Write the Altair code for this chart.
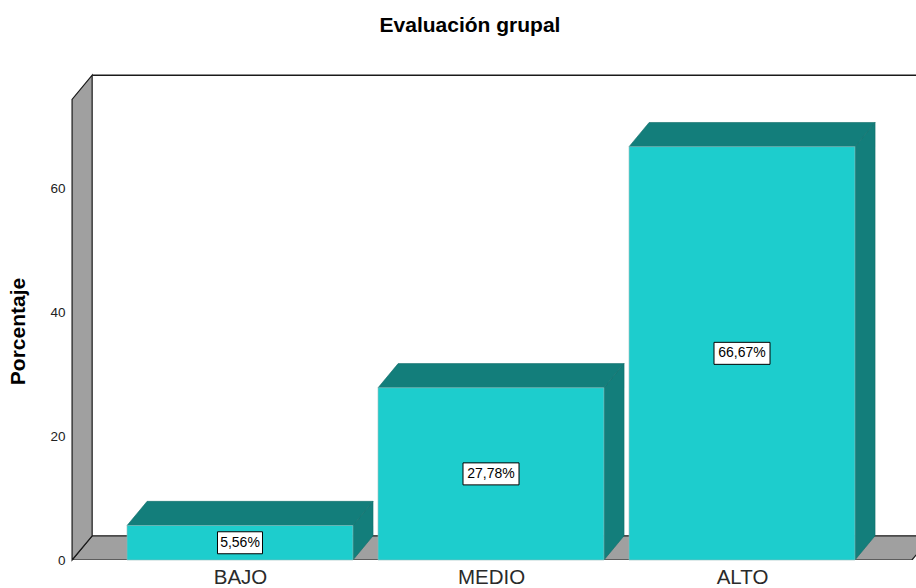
import altair as alt
import pandas as pd

# ---- data ----
categories = ["BAJO", "MEDIO", "ALTO"]
percentages = [5.56, 27.78, 66.67]
label_texts = ["5,56%", "27,78%", "66,67%"]
y_ticks = [0, 20, 40, 60]

title_text = "Evaluación grupal"
y_title = "Porcentaje"

# ---- 3D geometry (data units: x = category slot, y = percent) ----
HALF_W = 0.45        # half of bar front width
DX = 0.08            # depth shift along x
DY = 3.9             # depth shift along y
X_MIN, X_MAX = -0.6693, 2.6932
Y_MAX = 80.65
FRAME_L, FRAME_R, FRAME_T = -0.669, 2.677, 74.3
PX_X, PX_Y = 251.0, 6.2

FRONT = "#1dcdcd"
DARK = "#137e7b"
GRAY = "#a0a0a0"
EDGE = "#1a1a1a"
FONT = "Liberation Sans"

xs = alt.Scale(domain=[X_MIN, X_MAX], nice=False, zero=False)
ys = alt.Scale(domain=[0, Y_MAX], nice=False, zero=False)

label_expr = "[" + ",".join("'%s'" % c for c in categories) + "][datum.value]"

X_AXIS = alt.Axis(
    values=[0, 1, 2], labelExpr=label_expr, title=None, domain=False, ticks=False,
    grid=False, labelFontSize=20.5, labelFont=FONT, labelColor="#2a2a2a",
    labelPadding=7, labelFlush=False, labelOverlap=False)
Y_AXIS = alt.Axis(
    values=y_ticks, title=y_title, domain=False, ticks=False, grid=False,
    labelFontSize=13.5, labelFont=FONT, labelColor="#222", labelPadding=7,
    titleFont=FONT, titleFontSize=21, titleFontWeight="bold", titleColor="#000",
    titleAngle=-90, titleX=-54, titleY=271, titleAlign="center",
    titleBaseline="middle")


def X(field):
    return alt.X(field, scale=xs, axis=X_AXIS)


def Y(field):
    return alt.Y(field, scale=ys, axis=Y_AXIS)


# bar faces
front_rows, top_rows, side_rows, box_rows = [], [], [], []
for i, (c, v, t) in enumerate(zip(categories, percentages, label_texts)):
    front_rows.append({"cat": c, "x": i - HALF_W, "x2": i + HALF_W, "y": 0, "y2": v})
    top_rows.append({"cat": c, "y": v, "xl": i - HALF_W, "xr": i + HALF_W})
    top_rows.append({"cat": c, "y": v + DY, "xl": i - HALF_W + DX, "xr": i + HALF_W + DX})
    side_rows.append({"cat": c, "x": i + HALF_W, "y": 0, "y2": v})
    side_rows.append({"cat": c, "x": i + HALF_W + DX, "y": DY, "y2": v + DY})
    w_px = 11 * len(t) - 10
    hw = w_px / 2 / PX_X
    hh = 11 / PX_Y
    box_rows.append({"cat": c, "t": t, "xc": i, "yc": v / 2,
                     "x": i - hw, "x2": i + hw, "y": v / 2 - hh, "y2": v / 2 + hh})

front_df = pd.DataFrame(front_rows)
top_df = pd.DataFrame(top_rows)
side_df = pd.DataFrame(side_rows)
box_df = pd.DataFrame(box_rows)

floor_df = pd.DataFrame([
    {"y": 0, "xl": FRAME_L, "xr": FRAME_R},
    {"y": DY, "xl": FRAME_L + DX, "xr": FRAME_R + DX},
])
wall_df = pd.DataFrame([
    {"x": FRAME_L, "y": 0, "y2": FRAME_T},
    {"x": FRAME_L + DX, "y": DY, "y2": FRAME_T + DY},
])
back_df = pd.DataFrame([{"x": FRAME_L + DX, "x2": FRAME_R + DX + 0.5, "y": FRAME_T + DY}])

back = alt.Chart(back_df).mark_rule(color=EDGE, strokeWidth=1.5, clip=True).encode(
    x=X("x:Q"), x2="x2:Q", y=Y("y:Q"))

floor = alt.Chart(floor_df).mark_area(
    orient="horizontal", color=GRAY, stroke=EDGE, strokeWidth=1.2, clip=True
).encode(y=Y("y:Q"), x=X("xl:Q"), x2="xr:Q")

wall = alt.Chart(wall_df).mark_area(
    orient="vertical", color=GRAY, stroke=EDGE, strokeWidth=1.2
).encode(x=X("x:Q"), y=Y("y:Q"), y2="y2:Q")

sides = alt.Chart(side_df).mark_area(
    orient="vertical", color=DARK, stroke="#0f6d6a", strokeWidth=0.6
).encode(x=X("x:Q"), y=Y("y:Q"), y2="y2:Q", detail="cat:N")

tops = alt.Chart(top_df).mark_area(
    orient="horizontal", color=DARK, stroke="#0f6d6a", strokeWidth=0.6
).encode(y=Y("y:Q"), x=X("xl:Q"), x2="xr:Q", detail="cat:N")

fronts = alt.Chart(front_df).mark_rect(color=FRONT, stroke="#8fb8b8", strokeWidth=0.6).encode(
    x=X("x:Q"), x2="x2:Q", y=Y("y:Q"), y2="y2:Q")

boxes = alt.Chart(box_df).mark_rect(fill="white", stroke="#000", strokeWidth=1).encode(
    x=X("x:Q"), x2="x2:Q", y=Y("y:Q"), y2="y2:Q")

texts = alt.Chart(box_df).mark_text(
    font=FONT, fontSize=14, color="#000", align="center", baseline="middle"
).encode(x=X("xc:Q"), y=Y("yc:Q"), text="t:N")

chart = alt.layer(back, floor, wall, sides, tops, fronts, boxes, texts).properties(
    width=844, height=500,
    autosize=alt.AutoSizeParams(type="none"),
    padding={"left": 72, "top": 60, "right": 0, "bottom": 28},
    title=alt.TitleParams(title_text, font=FONT, fontSize=21, fontWeight="bold",
                          color="#000", anchor="middle", dx=-24, dy=20, offset=23,
                          baseline="bottom"),
    background="white",
).configure_view(stroke=None)

chart.save("out.html", embed_options={"renderer": "svg", "actions": False})
